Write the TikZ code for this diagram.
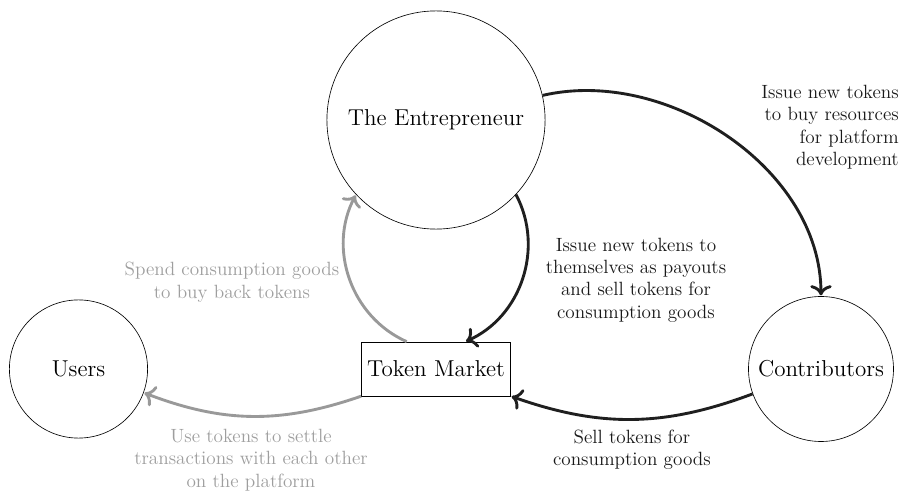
\documentclass[tikz,border=0pt]{standalone}
\usepackage{amsmath}
\usepackage{tikz}
\usetikzlibrary{positioning,arrows.meta}

\tikzset{
  agent/.style={circle,draw,thin,font=\Large},
  market/.style={rectangle,draw,thin,font=\Large,minimum height=1.19cm,inner xsep=3.6pt},
  flow/.style={-{To[scale=1.15]},line width=1.8pt,black!88},
  backflow/.style={-{To[scale=1.15]},line width=1.8pt,black!40},
  lbl/.style={font=\large,align=center,text=black!90},
  greylbl/.style={font=\large,align=center,text=black!38}
}

\begin{document}
\begin{tikzpicture}[shorten >=0.5pt,node distance=5.478cm,on grid,auto]
					\useasboundingbox (-9.592,-2.75) rectangle (10.252,8.118);
					\node[market] (tm) {Token Market};
					\node[agent, minimum size=4.8cm] (ent) [above=of tm] {The Entrepreneur};
					\node[agent, minimum size=3.04cm] (usr) [left=7.865cm of tm] {Users};
					\node[agent, minimum size=3.19cm] (con) [right=8.47cm of tm] {Contributors};
					% labels
					\node[lbl, align=right] (l_buy) at (8.67,5.32) {Issue new tokens\\to buy resources\\for platform\\development};
					\node[lbl] (l_pay) at (4.40,1.96) {Issue new tokens to\\themselves as payouts\\and sell tokens for\\consumption goods};
					\node[greylbl] (l_spend) at (-4.49,1.91) {Spend consumption goods\\to buy back tokens};
					\node[greylbl] (l_use) at (-4.07,-2.0) {Use tokens to settle\\transactions with each other\\on the platform};
					\node[lbl] (l_sell) at (4.31,-1.78) {Sell tokens for\\consumption goods};
					\path
					(ent)
					edge [flow, out=13, in=90, looseness=0.95] (con)
					edge [flow, bend left=47] (tm)
					(tm)
					edge [backflow, bend left=47] (ent)
					edge [backflow, bend left=20] (usr)
					(con)
					edge [flow, bend left=20] (tm);
				\end{tikzpicture}
\end{document}
